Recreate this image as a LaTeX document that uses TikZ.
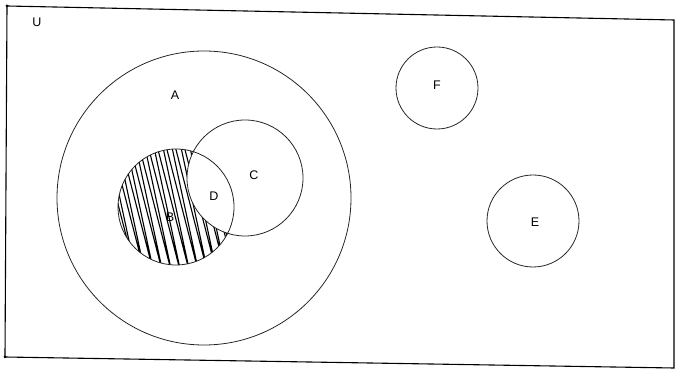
\documentclass[tikz,border=0pt]{standalone}
\usepackage{fontspec}
\setmainfont{Liberation Sans}
\begin{document}
\begin{tikzpicture}[x=1pt,y=-1pt,
  setcircle/.style={draw=black!85,line width=0.8pt},
  lbl/.style={font=\fontsize{12.5}{12.5}\selectfont,inner sep=0pt},
  hatch/.style={line width=1.1pt,line join=round,line cap=round}]
\useasboundingbox (0,0) rectangle (675,371);
% universe (slightly skewed scan)
\coordinate (u1) at (7,6);
\coordinate (u2) at (674,20);
\coordinate (u3) at (674,368);
\coordinate (u4) at (5,357);
\draw[line width=1.1pt] (u1) -- (u2) -- (u3) -- (u4) -- cycle;
\fill (u1) circle (1.5);
\fill (u4) circle (1.5);
% circles
\coordinate (cA) at (204,198);
\coordinate (cB) at (176,207);
\coordinate (cC) at (245,178);
\coordinate (cF) at (437,88);
\coordinate (cE) at (533,221);
% hatching of B minus C
\begin{scope}
  \clip (cB) circle (58);
  \begin{scope}[even odd rule]
    \clip (cB) circle (58) (cC) circle (58);
    \foreach \a in {92,101,...,236}{
      \draw[hatch] (\a,138) -- (\a+36,278) -- (\a+6,138);
    }
  \end{scope}
\end{scope}
\draw[setcircle] (cA) circle (147);
\draw[setcircle] (cB) circle (58);
\draw[setcircle] (cC) circle (58);
\draw[setcircle] (cF) circle (41);
\draw[setcircle] (cE) circle (46);
% labels
\node[lbl] (U) at (37,22) {U};
\node[lbl] (A) at (175,95) {A};
\node[lbl] (F) at (437,85) {F};
\node[lbl] (C) at (254,175) {C};
\node[lbl] (D) at (214,196) {D};
\node[lbl] (B) at (170,217) {B};
\node[lbl] (E) at (535,222) {E};
\end{tikzpicture}
\end{document}
